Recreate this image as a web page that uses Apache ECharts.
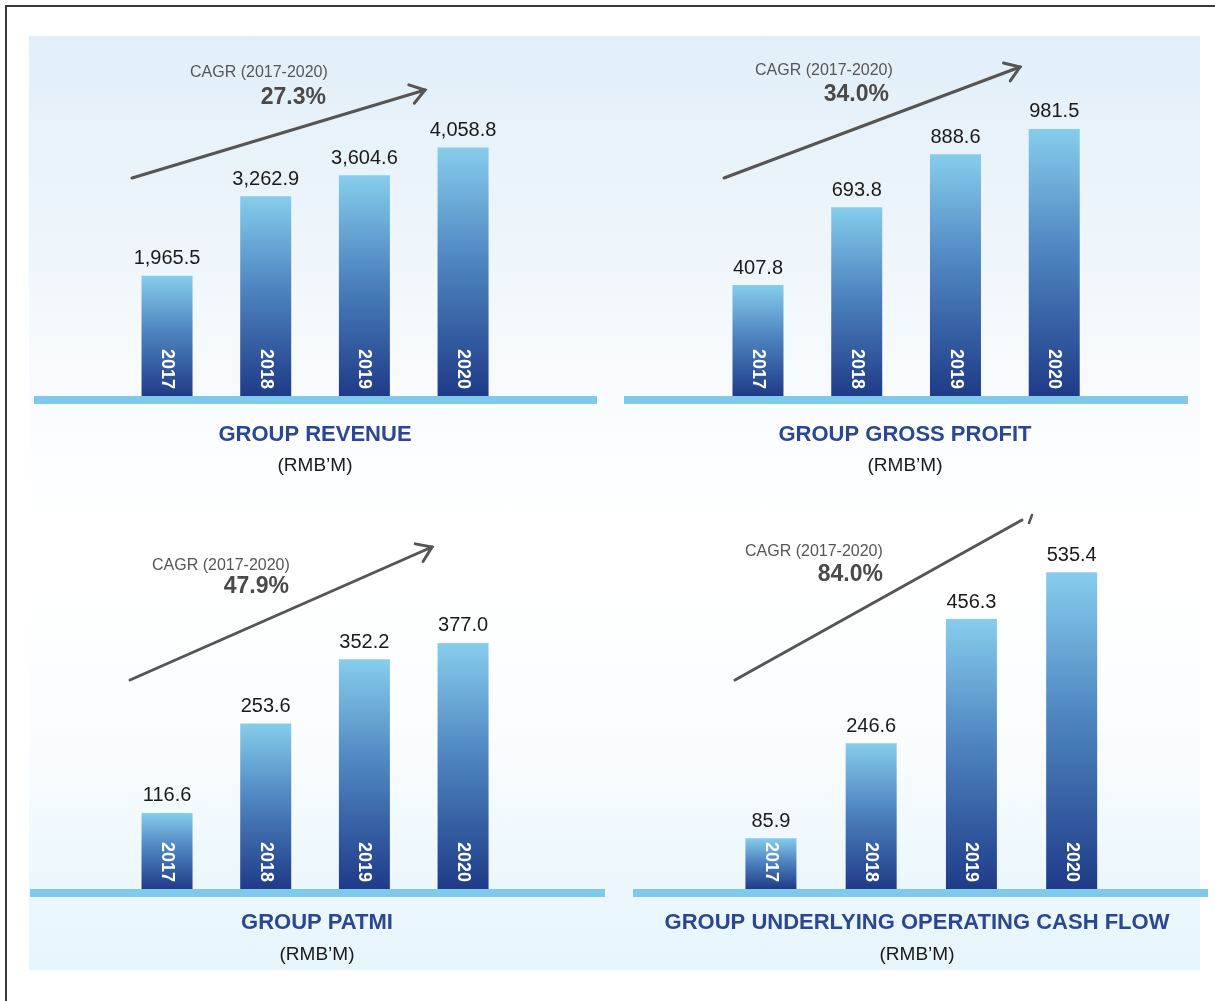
<!DOCTYPE html>
<html>
<head>
<meta charset="utf-8">
<script src="https://cdn.jsdelivr.net/npm/echarts@6/dist/echarts.min.js"></script>
<style>
html,body{margin:0;padding:0;background:#fff;}
#wrap{position:relative;width:1215px;height:1001px;overflow:hidden;background:#fff;}
#sky{position:absolute;left:29px;top:36px;width:1171px;height:934px;
background:linear-gradient(to bottom,#e2eff9 0%,#ebf4fa 18%,#f6fafd 34%,#fdfeff 46%,#ffffff 56%,#fbfdfe 74%,#eef8fd 88%,#e6f5fc 100%);}
#bt{position:absolute;left:6px;top:5px;width:1209px;height:2px;background:#3a3a3a;}
#bl{position:absolute;left:5px;top:5px;width:2px;height:996px;background:#3a3a3a;}
#chart{position:absolute;left:0;top:0;width:1215px;height:1001px;}
</style>
</head>
<body>
<div id="wrap">
  <div id="sky"></div>
  <div id="bt"></div>
  <div id="bl"></div>
  <div id="chart"></div>
</div>
<script>
// ---- data ----
const categories = ['2017', '2018', '2019', '2020'];
const revenue = [1965.5, 3262.9, 3604.6, 4058.8];
const grossProfit = [407.8, 693.8, 888.6, 981.5];
const patmi = [116.6, 253.6, 352.2, 377.0];
const cashFlow = [85.9, 246.6, 456.3, 535.4];
const cagrLabel = 'CAGR (2017-2020)';
const cagrValues = ['27.3%', '34.0%', '47.9%', '84.0%'];
const panelTitles = ['GROUP REVENUE', 'GROUP GROSS PROFIT', 'GROUP PATMI', 'GROUP UNDERLYING OPERATING CASH FLOW'];
const unitLabel = '(RMB\u2019M)';

const seriesData = [revenue, grossProfit, patmi, cashFlow];

// ---- layout (positions only) ----
const FONT = "'Liberation Sans', Arial, Helvetica, sans-serif";
const grids = [
  {left: 117.7, top: 80, width: 394.7, height: 316, max: 5162},
  {left: 708.6, top: 80, width: 395, height: 316, max: 1161.5},
  {left: 117.7, top: 580, width: 394.7, height: 309, max: 473.5},
  {left: 720.8, top: 540, width: 401, height: 349, max: 590}
];
const strips = [
  {x: 34, y: 396, w: 563}, {x: 624, y: 396, w: 564},
  {x: 30, y: 889, w: 575}, {x: 633, y: 889, w: 575}
];
const titlePos = [
  {x: 315, y: 435, sy: 466}, {x: 905, y: 435, sy: 466},
  {x: 317, y: 923, sy: 955}, {x: 917, y: 923, sy: 955}
];
const cagrPos = [
  {x: 190, y: 73, px: 326, py: 98},
  {x: 755, y: 71, px: 889, py: 95},
  {x: 152, y: 566, px: 289, py: 587},
  {x: 745, y: 552, px: 883, py: 575}
];
const arrows = [
  {x1: 132, y1: 178, x2: 425, y2: 90, head: true},
  {x1: 724, y1: 178, x2: 1020, y2: 67, head: true},
  {x1: 130, y1: 680, x2: 432, y2: 547, head: true},
  {x1: 735, y1: 680, x2: 1022, y2: 520, head: false}
];

const fmt = v => v.toLocaleString('en-US', {minimumFractionDigits: 1, maximumFractionDigits: 1});

const barGradient = () => new echarts.graphic.LinearGradient(0, 0, 0, 1, [
  {offset: 0, color: '#86cdec'},
  {offset: 0.45, color: '#4f86c1'},
  {offset: 1, color: '#1f3b88'}
]);

const option = {
  animation: false,
  grid: grids.map(g => ({left: g.left, top: g.top, width: g.width, height: g.height, containLabel: false})),
  xAxis: grids.map((g, i) => ({type: 'category', gridIndex: i, data: categories, show: false, boundaryGap: true})),
  yAxis: grids.map((g, i) => ({type: 'value', gridIndex: i, min: 0, max: g.max, show: false, splitLine: {show: false}})),
  series: [],
  graphic: []
};

seriesData.forEach((data, i) => {
  option.series.push({
    type: 'bar', xAxisIndex: i, yAxisIndex: i, data: data, barWidth: 51, barGap: '-100%',
    itemStyle: {color: barGradient()},
    label: {show: true, position: 'top', distance: 7, formatter: p => fmt(p.value),
      color: '#1a1a1a', fontSize: 20, fontFamily: FONT},
    silent: true
  });
  option.series.push({
    type: 'bar', xAxisIndex: i, yAxisIndex: i, data: data, barWidth: 51, barGap: '-100%',
    itemStyle: {color: 'rgba(0,0,0,0)'},
    label: {show: true, position: 'insideBottom', rotate: -90, align: 'right', verticalAlign: 'middle',
      distance: 7, formatter: '{b}', color: '#ffffff', fontSize: 18, fontWeight: 'bold', fontFamily: FONT},
    silent: true
  });
});

strips.forEach(s => {
  option.graphic.push({type: 'rect', shape: {x: s.x, y: s.y, width: s.w, height: 8}, style: {fill: '#7fcaea'}, silent: true});
});

titlePos.forEach((t, i) => {
  option.graphic.push({type: 'text', x: t.x, y: t.y, style: {text: panelTitles[i], fill: '#2c4792',
    font: 'bold 22px ' + FONT, textAlign: 'center', textVerticalAlign: 'middle'}});
  option.graphic.push({type: 'text', x: t.x, y: t.sy, style: {text: unitLabel, fill: '#1a1a1a',
    font: '19px ' + FONT, textAlign: 'center', textVerticalAlign: 'middle'}});
});

cagrPos.forEach((c, i) => {
  option.graphic.push({type: 'text', x: c.x, y: c.y, style: {text: cagrLabel, fill: '#555555',
    font: '16px ' + FONT, textAlign: 'left', textVerticalAlign: 'middle'}});
  option.graphic.push({type: 'text', x: c.px, y: c.py, style: {text: cagrValues[i], fill: '#4a4a4a',
    font: 'bold 23px ' + FONT, textAlign: 'right', textVerticalAlign: 'middle'}});
});

arrows.forEach(a => {
  option.graphic.push({type: 'line', shape: {x1: a.x1, y1: a.y1, x2: a.x2, y2: a.y2},
    style: {stroke: '#555555', lineWidth: 3, lineCap: 'round'}});
  if (a.head) {
    const ang = Math.atan2(a.y2 - a.y1, a.x2 - a.x1);
    const L = 17, spread = 0.6;
    const p1 = [a.x2 - L * Math.cos(ang - spread), a.y2 - L * Math.sin(ang - spread)];
    const p2 = [a.x2 - L * Math.cos(ang + spread), a.y2 - L * Math.sin(ang + spread)];
    option.graphic.push({type: 'polyline', shape: {points: [p1, [a.x2, a.y2], p2]},
      style: {stroke: '#555555', lineWidth: 3, lineCap: 'round', lineJoin: 'miter', fill: null}});
  } else {
    option.graphic.push({type: 'line', shape: {x1: 1032, y1: 515, x2: 1029, y2: 523},
      style: {stroke: '#555555', lineWidth: 2.5, lineCap: 'round'}});
  }
});

const chart = echarts.init(document.getElementById('chart'), null, {renderer: 'canvas'});
chart.setOption(option);
</script>
</body>
</html>
